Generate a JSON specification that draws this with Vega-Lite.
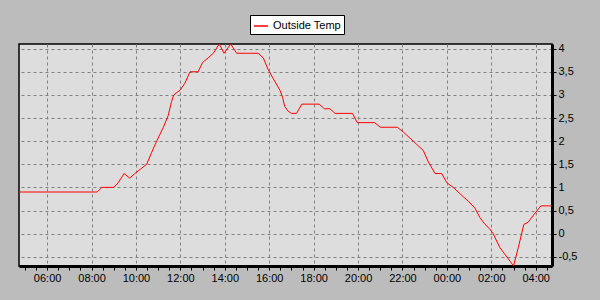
{
  "$schema": "https://vega.github.io/schema/vega-lite/v6.json",
  "autosize": {"type": "none"},
  "width": 533,
  "height": 222,
  "padding": {"left": 19, "top": 44, "right": 48, "bottom": 34},
  "background": "#bcbcbc",
  "config": {
    "view": {"stroke": "#000000", "strokeWidth": 1.5, "fill": "#dddddd"},
    "axis": {
      "labelFont": "Liberation Sans",
      "labelFontSize": 11,
      "labelColor": "#000000",
      "domainColor": "#000000",
      "domainWidth": 3,
      "tickColor": "#000000",
      "tickSize": 4,
      "tickWidth": 1,
      "gridColor": "#808080",
      "gridDash": [3, 3],
      "gridWidth": 1,
      "title": null
    }
  },
  "data": {
    "values": [
      {"time": "2024-01-01T04:44:00", "temp": 0.9},
      {"time": "2024-01-01T08:15:00", "temp": 0.9},
      {"time": "2024-01-01T08:28:00", "temp": 1.0},
      {"time": "2024-01-01T09:00:00", "temp": 1.0},
      {"time": "2024-01-01T09:12:00", "temp": 1.1},
      {"time": "2024-01-01T09:28:00", "temp": 1.3},
      {"time": "2024-01-01T09:43:00", "temp": 1.2},
      {"time": "2024-01-01T09:57:00", "temp": 1.3},
      {"time": "2024-01-01T10:13:00", "temp": 1.4},
      {"time": "2024-01-01T10:29:00", "temp": 1.5},
      {"time": "2024-01-01T10:42:00", "temp": 1.75},
      {"time": "2024-01-01T10:56:00", "temp": 2.0},
      {"time": "2024-01-01T11:14:00", "temp": 2.3},
      {"time": "2024-01-01T11:27:00", "temp": 2.55},
      {"time": "2024-01-01T11:36:00", "temp": 2.85},
      {"time": "2024-01-01T11:42:00", "temp": 3.0},
      {"time": "2024-01-01T11:59:00", "temp": 3.1},
      {"time": "2024-01-01T12:12:00", "temp": 3.25},
      {"time": "2024-01-01T12:26:00", "temp": 3.5},
      {"time": "2024-01-01T12:48:00", "temp": 3.5},
      {"time": "2024-01-01T13:00:00", "temp": 3.7},
      {"time": "2024-01-01T13:15:00", "temp": 3.8},
      {"time": "2024-01-01T13:29:00", "temp": 3.9},
      {"time": "2024-01-01T13:45:00", "temp": 4.1},
      {"time": "2024-01-01T13:58:00", "temp": 3.9},
      {"time": "2024-01-01T14:16:00", "temp": 4.1},
      {"time": "2024-01-01T14:32:00", "temp": 3.9},
      {"time": "2024-01-01T15:30:00", "temp": 3.9},
      {"time": "2024-01-01T15:44:00", "temp": 3.8},
      {"time": "2024-01-01T15:57:00", "temp": 3.55},
      {"time": "2024-01-01T16:11:00", "temp": 3.35},
      {"time": "2024-01-01T16:29:00", "temp": 3.1},
      {"time": "2024-01-01T16:36:00", "temp": 2.95},
      {"time": "2024-01-01T16:42:00", "temp": 2.75},
      {"time": "2024-01-01T16:51:00", "temp": 2.65},
      {"time": "2024-01-01T17:00:00", "temp": 2.6},
      {"time": "2024-01-01T17:14:00", "temp": 2.6},
      {"time": "2024-01-01T17:28:00", "temp": 2.8},
      {"time": "2024-01-01T18:15:00", "temp": 2.8},
      {"time": "2024-01-01T18:29:00", "temp": 2.7},
      {"time": "2024-01-01T18:44:00", "temp": 2.7},
      {"time": "2024-01-01T18:58:00", "temp": 2.6},
      {"time": "2024-01-01T19:45:00", "temp": 2.6},
      {"time": "2024-01-01T19:58:00", "temp": 2.4},
      {"time": "2024-01-01T20:45:00", "temp": 2.4},
      {"time": "2024-01-01T21:00:00", "temp": 2.3},
      {"time": "2024-01-01T21:46:00", "temp": 2.3},
      {"time": "2024-01-01T22:02:00", "temp": 2.2},
      {"time": "2024-01-01T22:29:00", "temp": 2.0},
      {"time": "2024-01-01T22:56:00", "temp": 1.8},
      {"time": "2024-01-01T23:10:00", "temp": 1.55},
      {"time": "2024-01-01T23:28:00", "temp": 1.3},
      {"time": "2024-01-01T23:46:00", "temp": 1.3},
      {"time": "2024-01-02T00:00:00", "temp": 1.1},
      {"time": "2024-01-02T00:17:00", "temp": 1.0},
      {"time": "2024-01-02T00:44:00", "temp": 0.8},
      {"time": "2024-01-02T00:58:00", "temp": 0.7},
      {"time": "2024-01-02T01:16:00", "temp": 0.55},
      {"time": "2024-01-02T01:29:00", "temp": 0.35},
      {"time": "2024-01-02T01:43:00", "temp": 0.2},
      {"time": "2024-01-02T01:56:00", "temp": 0.1},
      {"time": "2024-01-02T02:05:00", "temp": 0.0},
      {"time": "2024-01-02T02:23:00", "temp": -0.3},
      {"time": "2024-01-02T02:37:00", "temp": -0.45},
      {"time": "2024-01-02T02:51:00", "temp": -0.6},
      {"time": "2024-01-02T03:00:00", "temp": -0.7},
      {"time": "2024-01-02T03:13:00", "temp": -0.3},
      {"time": "2024-01-02T03:28:00", "temp": 0.2},
      {"time": "2024-01-02T03:40:00", "temp": 0.25},
      {"time": "2024-01-02T03:54:00", "temp": 0.4},
      {"time": "2024-01-02T04:14:00", "temp": 0.6},
      {"time": "2024-01-02T04:44:00", "temp": 0.6}
    ]
  },
  "mark": {"type": "line", "strokeWidth": 1},
  "encoding": {
    "x": {
      "field": "time",
      "type": "temporal",
      "scale": {"nice": false},
      "axis": {
        "orient": "bottom",
        "values": [
          {"year": 2024, "month": 1, "date": 1, "hours": 5, "minutes": 0},
          {"year": 2024, "month": 1, "date": 1, "hours": 5, "minutes": 30},
          {"year": 2024, "month": 1, "date": 1, "hours": 6, "minutes": 0},
          {"year": 2024, "month": 1, "date": 1, "hours": 6, "minutes": 30},
          {"year": 2024, "month": 1, "date": 1, "hours": 7, "minutes": 0},
          {"year": 2024, "month": 1, "date": 1, "hours": 7, "minutes": 30},
          {"year": 2024, "month": 1, "date": 1, "hours": 8, "minutes": 0},
          {"year": 2024, "month": 1, "date": 1, "hours": 8, "minutes": 30},
          {"year": 2024, "month": 1, "date": 1, "hours": 9, "minutes": 0},
          {"year": 2024, "month": 1, "date": 1, "hours": 9, "minutes": 30},
          {"year": 2024, "month": 1, "date": 1, "hours": 10, "minutes": 0},
          {"year": 2024, "month": 1, "date": 1, "hours": 10, "minutes": 30},
          {"year": 2024, "month": 1, "date": 1, "hours": 11, "minutes": 0},
          {"year": 2024, "month": 1, "date": 1, "hours": 11, "minutes": 30},
          {"year": 2024, "month": 1, "date": 1, "hours": 12, "minutes": 0},
          {"year": 2024, "month": 1, "date": 1, "hours": 12, "minutes": 30},
          {"year": 2024, "month": 1, "date": 1, "hours": 13, "minutes": 0},
          {"year": 2024, "month": 1, "date": 1, "hours": 13, "minutes": 30},
          {"year": 2024, "month": 1, "date": 1, "hours": 14, "minutes": 0},
          {"year": 2024, "month": 1, "date": 1, "hours": 14, "minutes": 30},
          {"year": 2024, "month": 1, "date": 1, "hours": 15, "minutes": 0},
          {"year": 2024, "month": 1, "date": 1, "hours": 15, "minutes": 30},
          {"year": 2024, "month": 1, "date": 1, "hours": 16, "minutes": 0},
          {"year": 2024, "month": 1, "date": 1, "hours": 16, "minutes": 30},
          {"year": 2024, "month": 1, "date": 1, "hours": 17, "minutes": 0},
          {"year": 2024, "month": 1, "date": 1, "hours": 17, "minutes": 30},
          {"year": 2024, "month": 1, "date": 1, "hours": 18, "minutes": 0},
          {"year": 2024, "month": 1, "date": 1, "hours": 18, "minutes": 30},
          {"year": 2024, "month": 1, "date": 1, "hours": 19, "minutes": 0},
          {"year": 2024, "month": 1, "date": 1, "hours": 19, "minutes": 30},
          {"year": 2024, "month": 1, "date": 1, "hours": 20, "minutes": 0},
          {"year": 2024, "month": 1, "date": 1, "hours": 20, "minutes": 30},
          {"year": 2024, "month": 1, "date": 1, "hours": 21, "minutes": 0},
          {"year": 2024, "month": 1, "date": 1, "hours": 21, "minutes": 30},
          {"year": 2024, "month": 1, "date": 1, "hours": 22, "minutes": 0},
          {"year": 2024, "month": 1, "date": 1, "hours": 22, "minutes": 30},
          {"year": 2024, "month": 1, "date": 1, "hours": 23, "minutes": 0},
          {"year": 2024, "month": 1, "date": 1, "hours": 23, "minutes": 30},
          {"year": 2024, "month": 1, "date": 2, "hours": 0, "minutes": 0},
          {"year": 2024, "month": 1, "date": 2, "hours": 0, "minutes": 30},
          {"year": 2024, "month": 1, "date": 2, "hours": 1, "minutes": 0},
          {"year": 2024, "month": 1, "date": 2, "hours": 1, "minutes": 30},
          {"year": 2024, "month": 1, "date": 2, "hours": 2, "minutes": 0},
          {"year": 2024, "month": 1, "date": 2, "hours": 2, "minutes": 30},
          {"year": 2024, "month": 1, "date": 2, "hours": 3, "minutes": 0},
          {"year": 2024, "month": 1, "date": 2, "hours": 3, "minutes": 30},
          {"year": 2024, "month": 1, "date": 2, "hours": 4, "minutes": 0},
          {"year": 2024, "month": 1, "date": 2, "hours": 4, "minutes": 30}
        ],
        "labelExpr": "minutes(datum.value) == 0 && hours(datum.value) % 2 == 0 ? timeFormat(datum.value, '%H:%M') : ''",
        "labelOverlap": false,
        "labelFlush": false,
        "labelPadding": 2,
        "gridOpacity": {"condition": {"test": "minutes(datum.value) == 0 && hours(datum.value) % 2 == 0", "value": 1}, "value": 0}
      }
    },
    "y": {
      "field": "temp",
      "type": "quantitative",
      "scale": {"domain": [-0.7, 4.1], "nice": false, "zero": false},
      "axis": {
        "orient": "right",
        "values": [-0.5, 0, 0.5, 1, 1.5, 2, 2.5, 3, 3.5, 4],
        "labelExpr": "(datum.value < 0 ? '-' : '') + replace(format(abs(datum.value), '~g'), '.', ',')",
        "labelPadding": 2
      }
    },
    "color": {
      "datum": "Outside Temp",
      "type": "nominal",
      "scale": {"range": ["#ff0000"]},
      "legend": {
        "orient": "none",
        "legendX": 231,
        "legendY": -29,
        "title": null,
        "fillColor": "#ffffff",
        "strokeColor": "#000000",
        "padding": 3,
        "symbolType": "stroke",
        "symbolSize": 200,
        "symbolStrokeWidth": 1.5,
        "labelFont": "Liberation Sans",
        "labelFontSize": 11,
        "labelColor": "#000000"
      }
    }
  }
}
